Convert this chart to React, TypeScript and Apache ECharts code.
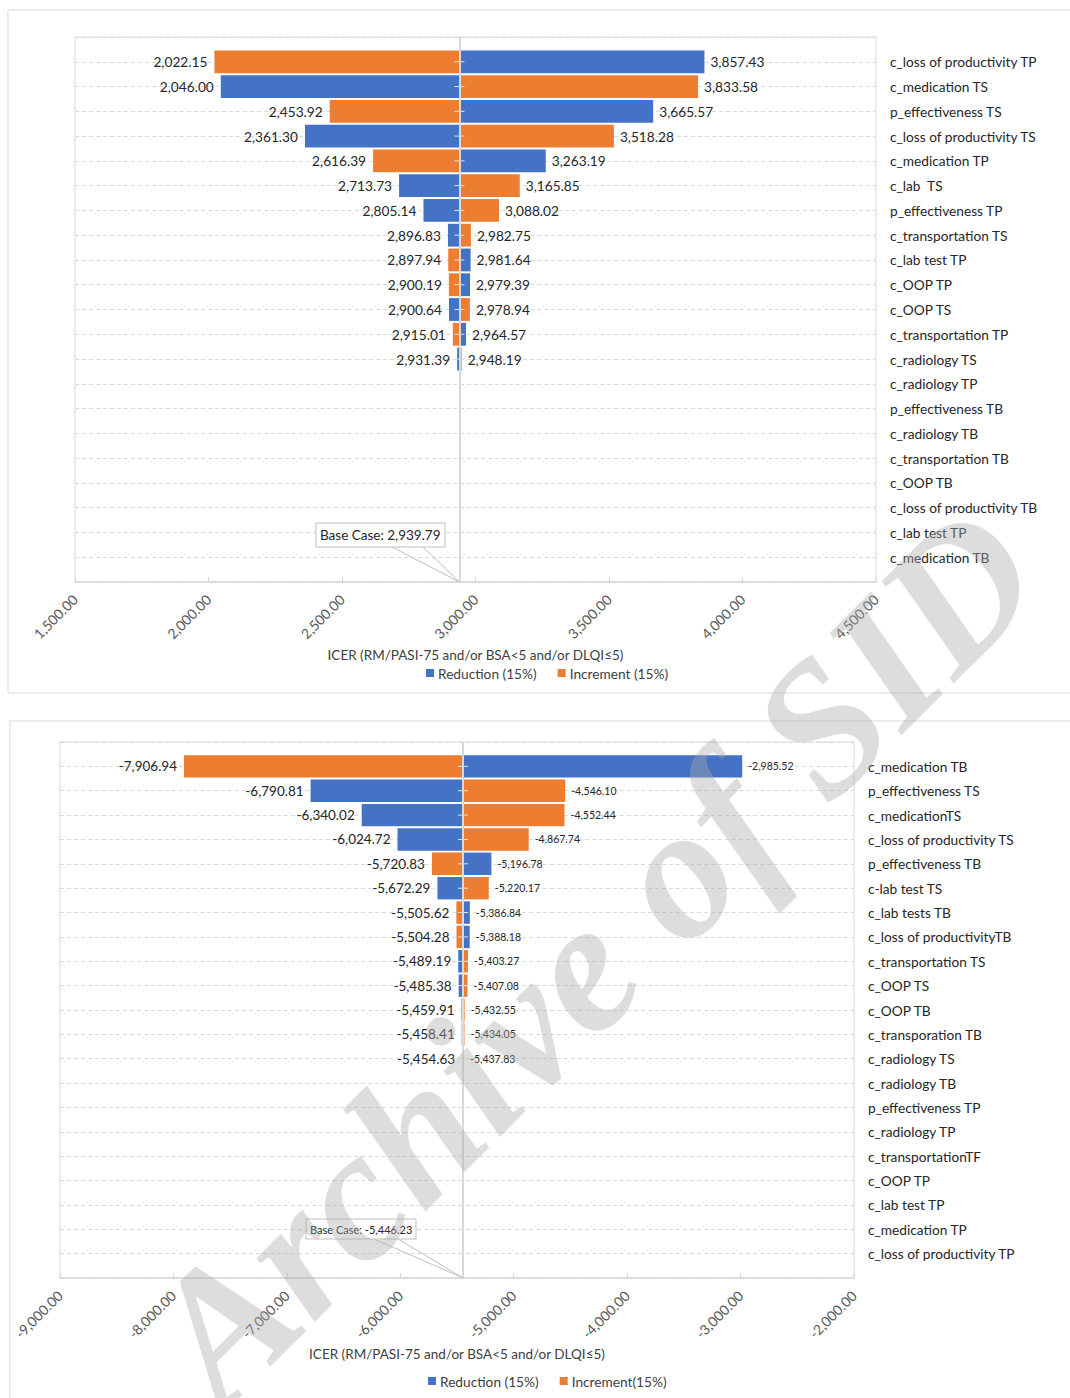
import React, { useEffect, useRef } from 'react';
import * as echarts from 'echarts';

const FONT = 'Lato, "Noto Sans", sans-serif';
const BLUE = '#4472C4';
const ORANGE = '#ED7D31';
const GRID_GRAY = '#d9d9d9';

// ---------- Top chart data ----------
const TOP_CATEGORIES = [
  'c_loss of productivity TP',
  'c_medication TS',
  'p_effectiveness TS',
  'c_loss of productivity TS',
  'c_medication TP',
  'c_lab  TS',
  'p_effectiveness TP',
  'c_transportation TS',
  'c_lab test TP',
  'c_OOP TP',
  'c_OOP TS',
  'c_transportation TP',
  'c_radiology TS',
  'c_radiology TP',
  'p_effectiveness TB',
  'c_radiology TB',
  'c_transportation TB',
  'c_OOP TB',
  'c_loss of productivity TB',
  'c_lab test TP',
  'c_medication TB',
];
const TOP_REDUCTION = [3857.43, 2046.0, 3665.57, 2361.3, 3263.19, 2713.73, 2805.14, 2896.83, 2981.64, 2979.39, 2900.64, 2964.57, 2931.39];
const TOP_INCREMENT = [2022.15, 3833.58, 2453.92, 3518.28, 2616.39, 3165.85, 3088.02, 2982.75, 2897.94, 2900.19, 2978.94, 2915.01, 2948.19];
const TOP_BASE = 2939.79;
const TOP_X_MIN = 1500;
const TOP_X_MAX = 4500;
const TOP_X_STEP = 500;

// ---------- Bottom chart data ----------
const BOTTOM_CATEGORIES = [
  'c_medication TB',
  'p_effectiveness TS',
  'c_medicationTS',
  'c_loss of productivity TS',
  'p_effectiveness TB',
  'c-lab test TS',
  'c_lab tests TB',
  'c_loss of productivityTB',
  'c_transportation TS',
  'c_OOP TS',
  'c_OOP TB',
  'c_transporation TB',
  'c_radiology TS',
  'c_radiology TB',
  'p_effectiveness TP',
  'c_radiology TP',
  'c_transportationTF',
  'c_OOP TP',
  'c_lab test TP',
  'c_medication TP',
  'c_loss of productivity TP',
];
const BOTTOM_REDUCTION = [-2985.52, -6790.81, -6340.02, -6024.72, -5196.78, -5672.29, -5386.84, -5388.18, -5489.19, -5485.38, -5459.91, -5458.41, -5454.63];
const BOTTOM_INCREMENT = [-7906.94, -4546.1, -4552.44, -4867.74, -5720.83, -5220.17, -5505.62, -5504.28, -5403.27, -5407.08, -5432.55, -5434.05, -5437.83];
const BOTTOM_BASE = -5446.23;
const BOTTOM_X_MIN = -9000;
const BOTTOM_X_MAX = -2000;
const BOTTOM_X_STEP = 1000;

const AXIS_NAME = 'ICER (RM/PASI-75 and/or BSA<5 and/or DLQI≤5)';

function fmt(v: number): string {
  return v.toLocaleString('en-US', { minimumFractionDigits: 2, maximumFractionDigits: 2 });
}

function tornadoSeries(
  name: string,
  color: string,
  values: number[],
  base: number,
  idx: number,
  leftSize: number,
  rightSize: number,
  withCenter: boolean
): any {
  const s: any = {
    type: 'custom',
    name,
    xAxisIndex: idx,
    yAxisIndex: idx,
    itemStyle: { color },
    data: values.map((v, i) => [v, i + 1]),
    encode: { x: 0, y: 1 },
    renderItem: (params: any, api: any) => {
      const v = api.value(0) as number;
      const row = api.value(1) as number;
      const p0 = api.coord([base, row]);
      const p1 = api.coord([v, row]);
      const h = api.size([0, 1])[1] * 0.92;
      const left = Math.min(p0[0], p1[0]);
      const w = Math.abs(p1[0] - p0[0]);
      const isLeft = v < base;
      const children: any[] = [
        {
          type: 'rect',
          shape: { x: left, y: p0[1] - h / 2, width: w, height: h },
          style: { fill: color },
        },
        {
          type: 'text',
          x: isLeft ? p1[0] - 7 : p1[0] + 6,
          y: p0[1],
          style: {
            text: fmt(v),
            fill: '#262626',
            fontSize: isLeft ? leftSize : rightSize,
            fontFamily: FONT,
            align: isLeft ? 'right' : 'left',
            verticalAlign: 'middle',
          },
        },
      ];
      if (withCenter) {
        children.push({
          type: 'line',
          shape: { x1: p0[0] - 5, y1: p0[1], x2: p0[0] + 5, y2: p0[1] },
          style: { stroke: '#e6e6e6', lineWidth: 1 },
          z2: 20,
        });
      }
      return { type: 'group', children };
    },
  };
  if (withCenter) {
    s.markLine = {
      silent: true,
      symbol: 'none',
      label: { show: false },
      lineStyle: { color: GRID_GRAY, width: 2, type: 'solid' },
      data: [{ xAxis: base }],
    };
  }
  return s;
}

function xAxisDef(idx: number, min: number, max: number, step: number, nameGap: number): any {
  return {
    type: 'value',
    gridIndex: idx,
    min,
    max,
    interval: step,
    axisLine: { show: true, onZero: false, lineStyle: { color: GRID_GRAY, width: 1.5 } },
    axisTick: { show: true, inside: true, length: 5, lineStyle: { color: GRID_GRAY } },
    splitLine: { show: false },
    axisLabel: {
      rotate: 45,
      formatter: (v: number) => fmt(v),
      color: '#595959',
      fontSize: 14,
      fontFamily: FONT,
      margin: 15,
    },
    name: AXIS_NAME,
    nameLocation: 'middle',
    nameGap,
    nameTextStyle: { color: '#404040', fontSize: 13.5, fontFamily: FONT },
  };
}

function yAxisDef(idx: number, cats: string[]): any {
  return {
    type: 'value',
    gridIndex: idx,
    inverse: true,
    min: 0,
    max: cats.length + 1,
    interval: 1,
    position: 'right',
    axisLine: { show: false, onZero: false },
    axisTick: { show: false },
    splitLine: { show: true, lineStyle: { color: GRID_GRAY, type: [4, 3] } },
    axisLabel: {
      formatter: (v: number) => cats[v - 1] ?? '',
      color: '#262626',
      fontSize: 13.7,
      fontFamily: FONT,
      margin: 14,
      align: 'left',
    },
  };
}

function callout(tip: number[], box: { x: number; y: number; w: number; h: number }, baseX1: number, baseX2: number, text: string, size: number): any[] {
  return [
    {
      type: 'polyline',
      shape: { points: [[baseX1, box.y + box.h], tip, [baseX2, box.y + box.h]] },
      style: { stroke: '#bfbfbf', fill: 'none', lineWidth: 1 },
      z: 50,
    },
    {
      type: 'rect',
      shape: { x: box.x, y: box.y, width: box.w, height: box.h },
      style: { fill: '#ffffff', stroke: '#bfbfbf', lineWidth: 1 },
      z: 51,
    },
    {
      type: 'text',
      x: box.x + 4,
      y: box.y + box.h / 2,
      style: { text, fill: '#262626', fontSize: size, fontFamily: FONT, align: 'left', verticalAlign: 'middle' },
      z: 52,
    },
  ];
}

export default function App() {
  const ref = useRef<HTMLDivElement>(null);
  useEffect(() => {
    if (!ref.current) return;
    const chart = echarts.init(ref.current, null, { renderer: 'svg' });
    const legendText = { color: '#404040', fontSize: 13.7, fontFamily: FONT, padding: [0, 0, 0, -1] };
    const option: any = {
      animation: false,
      backgroundColor: '#ffffff',
      grid: [
        { left: 75, top: 37, width: 801, height: 545, show: true, borderColor: GRID_GRAY, borderWidth: 1, containLabel: false },
        { left: 60, top: 742, width: 794, height: 536, show: true, borderColor: GRID_GRAY, borderWidth: 1, containLabel: false },
      ],
      xAxis: [
        xAxisDef(0, TOP_X_MIN, TOP_X_MAX, TOP_X_STEP, 66),
        xAxisDef(1, BOTTOM_X_MIN, BOTTOM_X_MAX, BOTTOM_X_STEP, 69),
      ],
      yAxis: [yAxisDef(0, TOP_CATEGORIES), yAxisDef(1, BOTTOM_CATEGORIES)],
      legend: [
        {
          data: ['Reduction (15%)', 'Increment (15%)'],
          left: 426,
          top: 666,
          icon: 'rect',
          itemWidth: 8,
          itemHeight: 8,
          itemGap: 21,
          padding: 0,
          textStyle: legendText,
          selectedMode: false,
        },
        {
          data: ['Reduction (15%)', 'Increment(15%)'],
          left: 428,
          top: 1374,
          icon: 'rect',
          itemWidth: 8,
          itemHeight: 8,
          itemGap: 21,
          padding: 0,
          textStyle: legendText,
          selectedMode: false,
        },
      ],
      series: [
        tornadoSeries('Reduction (15%)', BLUE, TOP_REDUCTION, TOP_BASE, 0, 13.7, 13.7, false),
        tornadoSeries('Increment (15%)', ORANGE, TOP_INCREMENT, TOP_BASE, 0, 13.7, 13.7, true),
        tornadoSeries('Reduction (15%)', BLUE, BOTTOM_REDUCTION, BOTTOM_BASE, 1, 13.5, 10.5, false),
        tornadoSeries('Increment(15%)', ORANGE, BOTTOM_INCREMENT, BOTTOM_BASE, 1, 13.5, 10.5, true),
      ],
    };
    chart.setOption(option);

    const tipTop = chart.convertToPixel({ xAxisIndex: 0, yAxisIndex: 0 } as any, [TOP_BASE, TOP_CATEGORIES.length + 1]) as number[];
    const tipBottom = chart.convertToPixel({ xAxisIndex: 1, yAxisIndex: 1 } as any, [BOTTOM_BASE, BOTTOM_CATEGORIES.length + 1]) as number[];

    const graphics: any[] = [
      { type: 'rect', shape: { x: 8, y: 10, width: 1100, height: 683 }, style: { fill: 'none', stroke: GRID_GRAY, lineWidth: 1 }, z: 0 },
      { type: 'rect', shape: { x: 10, y: 721, width: 1100, height: 720 }, style: { fill: 'none', stroke: GRID_GRAY, lineWidth: 1 }, z: 0 },
      ...callout(tipTop, { x: 316, y: 523, w: 129, h: 24 }, 392, 423, 'Base Case: ' + fmt(TOP_BASE), 13.5),
      ...callout(tipBottom, { x: 306, y: 1219, w: 110, h: 20 }, 374, 398, 'Base Case: ' + fmt(BOTTOM_BASE), 11),
      {
        type: 'text',
        x: 592,
        y: 955,
        rotation: Math.PI / 4,
        style: {
          text: 'Archive of SID',
          fill: 'rgba(170,170,170,0.4)',
          fontSize: 188,
          fontFamily: '"Liberation Serif", "DejaVu Serif", serif',
          fontWeight: 'bold',
          fontStyle: 'italic',
          align: 'center',
          verticalAlign: 'middle',
        },
        z: 100,
        silent: true,
      },
    ];
    chart.setOption({ graphic: graphics });

    return () => chart.dispose();
  }, []);
  return <div ref={ref} style={{ position: 'absolute', left: 0, top: 0, width: 1070, height: 1398 }} />;
}
